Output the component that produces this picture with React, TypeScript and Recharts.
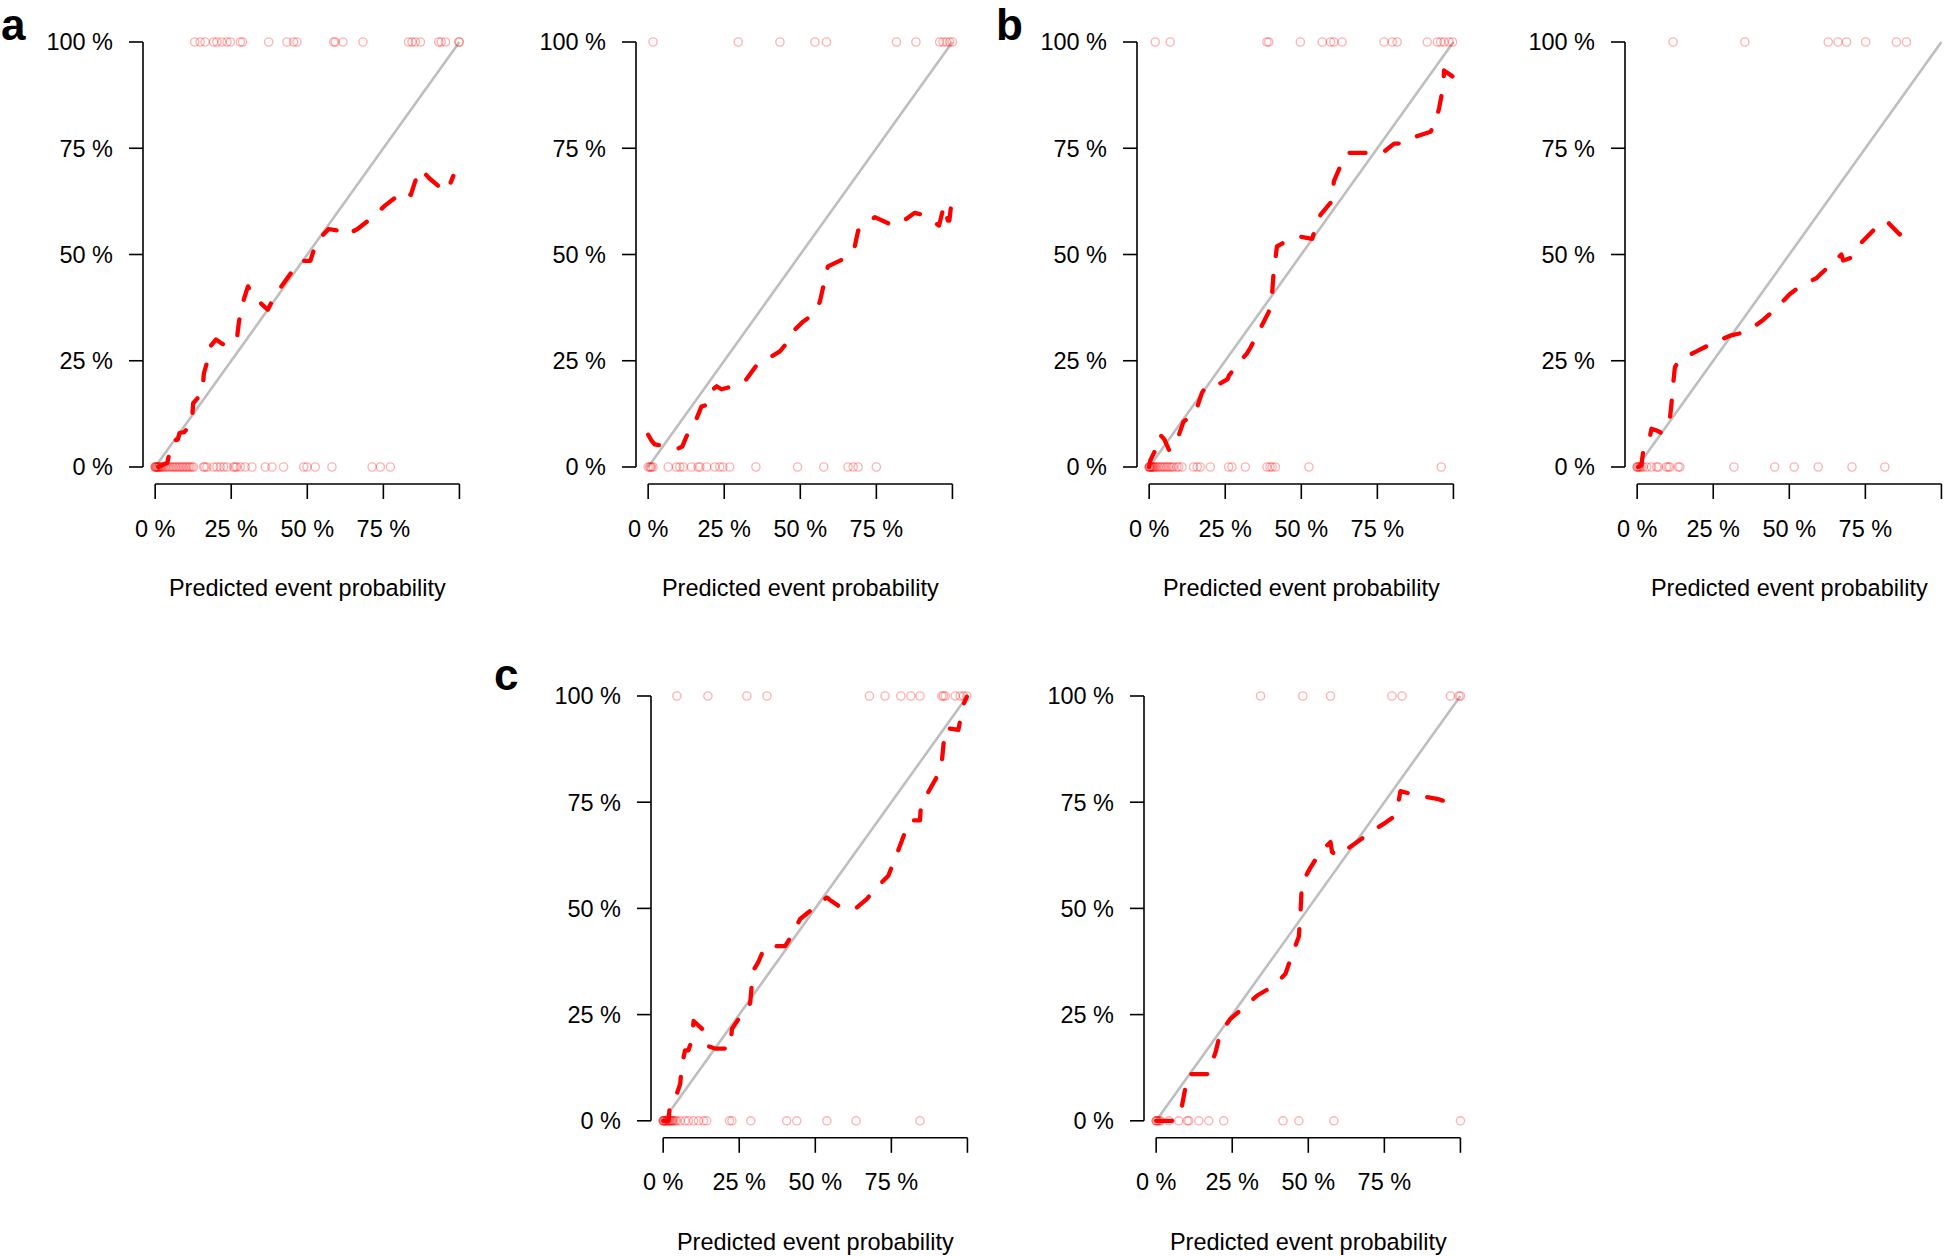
import { ComposedChart, Line, Scatter, XAxis, YAxis, ReferenceLine } from 'recharts';

// shared axis setup
const ticks = [0, 0.25, 0.5, 0.75, 1];
const xTickLabels = ['0 %', '25 %', '50 %', '75 %', ''];
const yTickLabels = ['0 %', '25 %', '50 %', '75 %', '100 %'];
const xTitle = 'Predicted event probability';
const diagonal = [[0, 0], [1, 1]];

// panel a, left
const a1Curve = [
  [0.01, 0], [0.04, 0.01], [0.055, 0.06], [0.075, 0.065], [0.08, 0.08], [0.095, 0.082],
  [0.12, 0.1], [0.125, 0.15], [0.155, 0.175], [0.16, 0.22], [0.17, 0.245], [0.18, 0.283],
  [0.2, 0.3], [0.22, 0.29], [0.235, 0.285], [0.245, 0.3], [0.26, 0.305], [0.27, 0.31],
  [0.275, 0.34], [0.285, 0.38], [0.305, 0.425], [0.325, 0.4], [0.37, 0.37], [0.395, 0.405],
  [0.43, 0.44], [0.46, 0.47], [0.475, 0.485], [0.51, 0.485], [0.53, 0.53], [0.57, 0.56],
  [0.61, 0.555], [0.625, 0.545], [0.665, 0.56], [0.71, 0.585], [0.755, 0.615], [0.8, 0.64],
  [0.825, 0.65], [0.84, 0.64], [0.865, 0.695], [0.875, 0.7], [0.9, 0.68], [0.95, 0.65],
  [0.96, 0.65], [0.98, 0.685],
];
const a1Events = [
  0.13, 0.148, 0.164, 0.192, 0.203, 0.219, 0.236, 0.247, 0.28, 0.287, 0.373, 0.433, 0.455,
  0.466, 0.587, 0.592, 0.617, 0.683, 0.833, 0.844, 0.855, 0.872, 0.932, 0.94, 0.954, 0.998, 1.0,
];
const a1NonEvents = [
  0, 0, 0.002, 0.004, 0.005, 0.007, 0.009, 0.011, 0.013, 0.016, 0.019, 0.022, 0.027, 0.033,
  0.038, 0.044, 0.049, 0.055, 0.06, 0.066, 0.071, 0.077, 0.082, 0.088, 0.093, 0.099, 0.104,
  0.11, 0.115, 0.121, 0.126, 0.159, 0.163, 0.17, 0.192, 0.203, 0.214, 0.225, 0.236, 0.258,
  0.263, 0.268, 0.28, 0.296, 0.318, 0.362, 0.384, 0.422, 0.488, 0.499, 0.526, 0.581, 0.713,
  0.74, 0.773,
];

// panel a, right
const a2Curve = [
  [0, 0.076], [0.011, 0.062], [0.022, 0.053], [0.049, 0.05], [0.099, 0.044], [0.112, 0.048],
  [0.126, 0.072], [0.159, 0.114], [0.175, 0.142], [0.192, 0.146], [0.214, 0.183], [0.225, 0.19],
  [0.241, 0.183], [0.268, 0.188], [0.318, 0.202], [0.356, 0.239], [0.4, 0.258], [0.433, 0.272],
  [0.449, 0.286], [0.482, 0.323], [0.509, 0.342], [0.537, 0.356], [0.564, 0.388], [0.586, 0.458],
  [0.591, 0.472], [0.646, 0.491], [0.679, 0.519], [0.69, 0.556], [0.7, 0.56], [0.745, 0.588],
  [0.805, 0.568], [0.849, 0.584], [0.876, 0.598], [0.904, 0.593], [0.956, 0.568], [0.972, 0.615],
  [0.985, 0.58], [0.99, 0.58], [0.998, 0.63],
];
const a2Events = [0.016, 0.296, 0.433, 0.548, 0.586, 0.816, 0.88, 0.958, 0.969, 0.98, 0.991, 1.0];
const a2NonEvents = [
  0, 0.005, 0.008, 0.011, 0.016, 0.066, 0.093, 0.104, 0.115, 0.142, 0.164, 0.17, 0.192, 0.219,
  0.235, 0.246, 0.268, 0.354, 0.491, 0.577, 0.657, 0.674, 0.69, 0.75,
];

// panel b, left
const b1Curve = [
  [0, 0], [0.004, 0.016], [0.02, 0.039], [0.036, 0.076], [0.05, 0.065], [0.066, 0.039],
  [0.091, 0.062], [0.113, 0.107], [0.151, 0.126], [0.173, 0.174], [0.19, 0.193], [0.234, 0.197],
  [0.258, 0.207], [0.262, 0.215], [0.289, 0.24], [0.321, 0.267], [0.333, 0.281], [0.36, 0.318],
  [0.393, 0.365], [0.404, 0.407], [0.409, 0.458], [0.42, 0.519], [0.442, 0.528], [0.497, 0.542],
  [0.536, 0.537], [0.541, 0.55], [0.563, 0.593], [0.601, 0.626], [0.607, 0.672], [0.629, 0.709],
  [0.651, 0.739], [0.717, 0.739], [0.772, 0.742], [0.805, 0.761], [0.832, 0.761], [0.882, 0.779],
  [0.925, 0.789], [0.942, 0.812], [0.953, 0.845], [0.967, 0.896], [0.969, 0.933], [0.997, 0.919],
];
const b1Events = [
  0.02, 0.069, 0.387, 0.393, 0.497, 0.569, 0.596, 0.607, 0.634, 0.772, 0.799, 0.815, 0.914,
  0.947, 0.958, 0.969, 0.986, 0.997,
];
const b1NonEvents = [
  0, 0, 0.001, 0.003, 0.005, 0.007, 0.009, 0.011, 0.014, 0.017, 0.02, 0.025, 0.03, 0.036,
  0.041, 0.047, 0.052, 0.058, 0.063, 0.069, 0.075, 0.08, 0.091, 0.097, 0.108, 0.146, 0.158,
  0.168, 0.201, 0.261, 0.272, 0.316, 0.387, 0.397, 0.404, 0.415, 0.525, 0.96,
];

// panel b, right
const b2Curve = [
  [0.003, 0], [0.014, 0.004], [0.02, 0.039], [0.042, 0.072], [0.047, 0.09], [0.064, 0.086],
  [0.08, 0.08], [0.107, 0.109], [0.113, 0.151], [0.118, 0.193], [0.124, 0.235], [0.14, 0.253],
  [0.195, 0.272], [0.244, 0.29], [0.305, 0.309], [0.359, 0.318], [0.414, 0.346], [0.452, 0.37],
  [0.502, 0.407], [0.545, 0.43], [0.589, 0.444], [0.6, 0.452], [0.644, 0.481], [0.671, 0.5],
  [0.677, 0.486], [0.699, 0.491], [0.737, 0.528], [0.775, 0.556], [0.814, 0.579], [0.825, 0.575],
  [0.863, 0.547], [0.885, 0.589],
];
const b2Events = [0.118, 0.354, 0.628, 0.66, 0.688, 0.751, 0.852, 0.885];
const b2NonEvents = [
  0, 0, 0.003, 0.006, 0.009, 0.014, 0.02, 0.031, 0.047, 0.064, 0.069, 0.096, 0.102, 0.107,
  0.135, 0.14, 0.318, 0.452, 0.516, 0.595, 0.706, 0.814,
];

// panel c, left
const c1Curve = [
  [0, 0], [0.018, 0], [0.021, 0.031], [0.034, 0.041], [0.056, 0.087], [0.061, 0.129],
  [0.072, 0.166], [0.083, 0.166], [0.094, 0.189], [0.1, 0.235], [0.142, 0.207], [0.15, 0.175],
  [0.17, 0.17], [0.22, 0.17], [0.226, 0.216], [0.248, 0.24], [0.286, 0.277], [0.292, 0.327],
  [0.297, 0.355], [0.313, 0.374], [0.335, 0.411], [0.401, 0.411], [0.428, 0.443], [0.45, 0.475],
  [0.499, 0.503], [0.538, 0.526], [0.548, 0.52], [0.582, 0.503], [0.631, 0.499], [0.669, 0.522],
  [0.702, 0.549], [0.74, 0.577], [0.768, 0.628], [0.79, 0.67], [0.811, 0.707], [0.844, 0.707],
  [0.846, 0.73], [0.866, 0.767], [0.899, 0.809], [0.916, 0.846], [0.921, 0.883], [0.927, 0.925],
  [0.97, 0.92], [0.987, 0.98], [0.998, 0.998],
];
const c1Events = [
  0.045, 0.147, 0.275, 0.341, 0.678, 0.729, 0.781, 0.814, 0.844, 0.916, 0.921, 0.927, 0.96,
  0.976, 0.987, 0.998,
];
const c1NonEvents = [
  0, 0, 0.001, 0.003, 0.005, 0.007, 0.01, 0.012, 0.015, 0.018, 0.02, 0.023, 0.026, 0.028,
  0.031, 0.034, 0.04, 0.045, 0.056, 0.072, 0.083, 0.1, 0.116, 0.133, 0.143, 0.218, 0.226,
  0.288, 0.406, 0.439, 0.538, 0.634, 0.844,
];

// panel c, right
const c2Curve = [
  [0, 0], [0.064, 0], [0.085, 0.036], [0.096, 0.078], [0.102, 0.11], [0.173, 0.11],
  [0.178, 0.125], [0.195, 0.161], [0.211, 0.207], [0.244, 0.24], [0.288, 0.267], [0.332, 0.295],
  [0.387, 0.318], [0.425, 0.346], [0.447, 0.392], [0.469, 0.434], [0.474, 0.485], [0.479, 0.559],
  [0.507, 0.596], [0.54, 0.633], [0.573, 0.656], [0.578, 0.633], [0.595, 0.623], [0.65, 0.651],
  [0.704, 0.679], [0.754, 0.702], [0.781, 0.716], [0.792, 0.735], [0.803, 0.776], [0.852, 0.767],
  [0.923, 0.758], [0.967, 0.748], [0.978, 0.758],
];
const c2Events = [0.343, 0.482, 0.573, 0.775, 0.808, 0.967, 0.995, 1.0];
const c2NonEvents = [
  0, 0, 0.003, 0.006, 0.01, 0.014, 0.042, 0.074, 0.102, 0.107, 0.14, 0.173, 0.222, 0.417,
  0.469, 0.584, 1.0,
];

const FONT = '"Liberation Sans", Arial, Helvetica, sans-serif';
const FONT_SIZE = 23.5;
const Y_AXIS_W = 150;
const X_AXIS_H = 135;
const TOP_M = 20;
const RIGHT_M = 20;
const PLOT_W = 328.6;

const toPoints = (pairs: number[][]) => pairs.map(([x, y]) => ({ x, y }));
const rug = (xs: number[], y: number) => xs.map((x) => ({ x, y }));

function XTick({ x, y, payload }: any) {
  const label = xTickLabels[ticks.indexOf(payload.value)];
  return (
    <text x={x} y={y} textAnchor="middle" dy="0.71em" fontSize={FONT_SIZE} fontFamily={FONT} fill="#000">
      {label}
    </text>
  );
}

function YTick({ x, y, payload }: any) {
  const label = yTickLabels[ticks.indexOf(payload.value)];
  return (
    <text x={x} y={y} textAnchor="end" dy="0.355em" fontSize={FONT_SIZE} fontFamily={FONT} fill="#000">
      {label}
    </text>
  );
}

// translucent red circles, overlaps get darker like in the original
function RugMark({ cx, cy }: any) {
  return <circle cx={cx} cy={cy} r={4.1} fill="none" stroke="#ff0000" strokeOpacity={0.3} strokeWidth={1.4} />;
}

function AxisTitle(props: any) {
  const vb = props.viewBox || {};
  return (
    <text x={vb.x + vb.width / 2} y={vb.y + 112} textAnchor="middle" fontSize={FONT_SIZE}
      fontFamily={FONT} fill="#000">{xTitle}</text>
  );
}

interface PanelProps {
  left: number; // page x of the plot region
  top: number;
  plotH: number;
  curve: number[][];
  events: number[];
  nonEvents: number[];
}

function Panel({ left, top, plotH, curve, events, nonEvents }: PanelProps) {
  const width = Y_AXIS_W + PLOT_W + RIGHT_M;
  const height = TOP_M + plotH + X_AXIS_H;
  return (
    <div style={{ position: 'absolute', left: left - Y_AXIS_W, top: top - TOP_M }}>
      <ComposedChart width={width} height={height} margin={{ top: TOP_M, right: RIGHT_M, bottom: 0, left: 0 }}>
        <XAxis
          type="number"
          dataKey="x"
          domain={[-0.04, 1.04]}
          allowDataOverflow
          ticks={ticks}
          interval={0}
          axisLine={false}
          tickLine={{ stroke: '#000', strokeWidth: 1.6 }}
          tickSize={15}
          tickMargin={21}
          tick={XTick}
          height={X_AXIS_H}
          label={AxisTitle}
        />
        <YAxis
          type="number"
          dataKey="y"
          domain={[-0.04, 1.04]}
          allowDataOverflow
          ticks={ticks}
          interval={0}
          axisLine={false}
          tickLine={{ stroke: '#000', strokeWidth: 1.6 }}
          tickSize={14}
          tickMargin={16}
          tick={YTick}
          width={Y_AXIS_W}
        />
        <ReferenceLine segment={[{ x: -0.04, y: 0 }, { x: -0.04, y: 1 }]} stroke="#000" strokeWidth={1.6} ifOverflow="visible" />
        <ReferenceLine segment={[{ x: 0, y: -0.04 }, { x: 1, y: -0.04 }]} stroke="#000" strokeWidth={1.6} ifOverflow="visible" />
        <Scatter data={rug(nonEvents, 0)} shape={RugMark} isAnimationActive={false} />
        <Scatter data={rug(events, 1)} shape={RugMark} isAnimationActive={false} />
        <Line data={toPoints(diagonal)} dataKey="y" stroke="#bebebe" strokeWidth={2.6} dot={false}
          activeDot={false} isAnimationActive={false} />
        <Line data={toPoints(curve)} dataKey="y" stroke="#ff0000" strokeWidth={4.3} strokeDasharray="16 20"
          strokeLinecap="round" strokeLinejoin="round" dot={false} activeDot={false} isAnimationActive={false} />
      </ComposedChart>
    </div>
  );
}

export default function App() {
  const TOP_ROW = 25.3;
  const BOTTOM_ROW = 679.2;
  return (
    <div style={{ position: 'absolute', left: 0, top: 0, width: 1944, height: 1256, overflow: 'hidden', background: '#fff' }}>
      <Panel left={142.8} top={TOP_ROW} plotH={459} curve={a1Curve} events={a1Events} nonEvents={a1NonEvents} />
      <Panel left={636.2} top={TOP_ROW} plotH={459} curve={a2Curve} events={a2Events} nonEvents={a2NonEvents} />
      <Panel left={1137} top={TOP_ROW} plotH={459} curve={b1Curve} events={b1Events} nonEvents={b1NonEvents} />
      <Panel left={1625.2} top={TOP_ROW} plotH={459} curve={b2Curve} events={b2Events} nonEvents={b2NonEvents} />
      <Panel left={651} top={BOTTOM_ROW} plotH={458.8} curve={c1Curve} events={c1Events} nonEvents={c1NonEvents} />
      <Panel left={1143.5} top={BOTTOM_ROW} plotH={458.8} curve={c2Curve} events={c2Events} nonEvents={c2NonEvents} />
      <svg width={1944} height={1256} style={{ position: 'absolute', left: 0, top: 0, pointerEvents: 'none' }}>
        <text x={1} y={40} fontSize={44} fontWeight="bold" fontFamily={FONT} fill="#000">a</text>
        <text x={996} y={40} fontSize={44} fontWeight="bold" fontFamily={FONT} fill="#000">b</text>
        <text x={494} y={690} fontSize={44} fontWeight="bold" fontFamily={FONT} fill="#000">c</text>
      </svg>
    </div>
  );
}
